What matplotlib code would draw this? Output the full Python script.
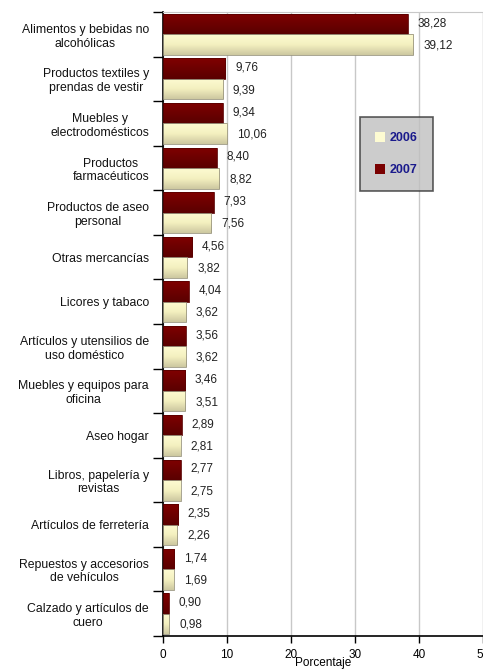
import numpy as np
import matplotlib
matplotlib.use("Agg")
import matplotlib.pyplot as plt
from matplotlib.patches import Patch
from matplotlib.colors import LinearSegmentedColormap

categorias = [
    "Alimentos y bebidas no\nalcohólicas",
    "Productos textiles y\nprendas de vestir",
    "Muebles y\nelectrodomésticos",
    "Productos\nfarmacéuticos",
    "Productos de aseo\npersonal",
    "Otras mercancías",
    "Licores y tabaco",
    "Artículos y utensilios de\nuso doméstico",
    "Muebles y equipos para\noficina",
    "Aseo hogar",
    "Libros, papelería y\nrevistas",
    "Artículos de ferretería",
    "Repuestos y accesorios\nde vehículos",
    "Calzado y artículos de\ncuero",
]
v2007 = [38.28, 9.76, 9.34, 8.40, 7.93, 4.56, 4.04, 3.56, 3.46, 2.89, 2.77, 2.35, 1.74, 0.90]
v2006 = [39.12, 9.39, 10.06, 8.82, 7.56, 3.82, 3.62, 3.62, 3.51, 2.81, 2.75, 2.26, 1.69, 0.98]
xticks = [0, 10, 20, 30, 40, 50]

plt.rcParams['font.family'] = ['Liberation Sans', 'DejaVu Sans']

fig = plt.figure(figsize=(4.83, 6.70), dpi=100)
ax = fig.add_axes([0.3375, 0.0507, 0.6625, 0.9313])

n = len(categorias)
y = np.arange(n)
h = 0.46

cmap_red = LinearSegmentedColormap.from_list("r", ["#800000", "#5a0000"])
cmap_cream = LinearSegmentedColormap.from_list("c", ["#fdfbd2", "#f4f0c0", "#cdc8a0"])
grad = np.linspace(0, 1, 64).reshape(-1, 1)


def gradient_bars(vals, offset, cmap, edge):
    bars = ax.barh(y + offset, vals, height=h, color="none", edgecolor=edge,
                   linewidth=0.6, zorder=3)
    for b in bars:
        x0, y0 = b.get_x(), b.get_y()
        w, hh = b.get_width(), b.get_height()
        im = ax.imshow(grad, cmap=cmap, aspect="auto", zorder=2,
                       extent=(x0, x0 + w, y0 + hh, y0), interpolation="bilinear")
        im.set_clip_path(b)
    return bars


gradient_bars(v2007, -0.23, cmap_red, "#5a0000")
gradient_bars(v2006, 0.23, cmap_cream, "#9a9680")

for i in range(n):
    ax.annotate(f"{v2007[i]:.2f}".replace(".", ","), (v2007[i], y[i] - 0.25),
                xytext=(7, 0), textcoords="offset points", va="center",
                fontsize=8.5, color="#222222")
    ax.annotate(f"{v2006[i]:.2f}".replace(".", ","), (v2006[i], y[i] + 0.25),
                xytext=(7, 0), textcoords="offset points", va="center",
                fontsize=8.5, color="#222222")

ax.set_xlim(0, 50)
ax.set_ylim(n - 0.5, -0.5)
ax.set_xticks(xticks)
ax.set_xticklabels([str(t) for t in xticks], fontsize=8.5)
ax.xaxis.grid(True, color="#c8c8c8", linewidth=1)
ax.set_axisbelow(True)

# category boundaries carry the tick marks, labels sit at group centres
ax.set_yticks(np.arange(-0.5, n, 1.0))
ax.set_yticklabels([])
ax.set_yticks(y, minor=True)
ax.set_yticklabels(categorias, minor=True, fontsize=8.8, ha="right",
                   multialignment="center", color="#111111")
ax.tick_params(axis="y", which="minor", length=0, pad=10)
ax.tick_params(axis="y", which="major", length=7, width=1)
ax.tick_params(axis="x", length=5, width=1, pad=4)

for s in ["top", "right"]:
    ax.spines[s].set_color("#c8c8c8")
ax.spines["left"].set_linewidth(1.2)
ax.spines["bottom"].set_linewidth(1.2)

ax.set_xlabel("Porcentaje", fontsize=8.5)
ax.xaxis.set_label_coords(0.5, -0.034)

handles = [Patch(facecolor="#fdfbd2", edgecolor="none"),
           Patch(facecolor="#7a0000", edgecolor="none")]
leg = fig.legend(handles, ["2006", "2007"], loc="upper left",
                 bbox_to_anchor=(360 / 483, 1 - 117 / 670),
                 frameon=True, fancybox=False, shadow=False,
                 handlelength=0.8, handleheight=0.8, handletextpad=0.4,
                 labelspacing=1.6, borderpad=1.2, borderaxespad=0,
                 prop={"weight": "bold", "size": 9})
leg.get_frame().set_facecolor("#c0c0c0")
leg.get_frame().set_edgecolor("#333333")
leg.get_frame().set_linewidth(1.2)
for t in leg.get_texts():
    t.set_color("#1a1a8c")

fig.savefig("out.png", dpi=100)
